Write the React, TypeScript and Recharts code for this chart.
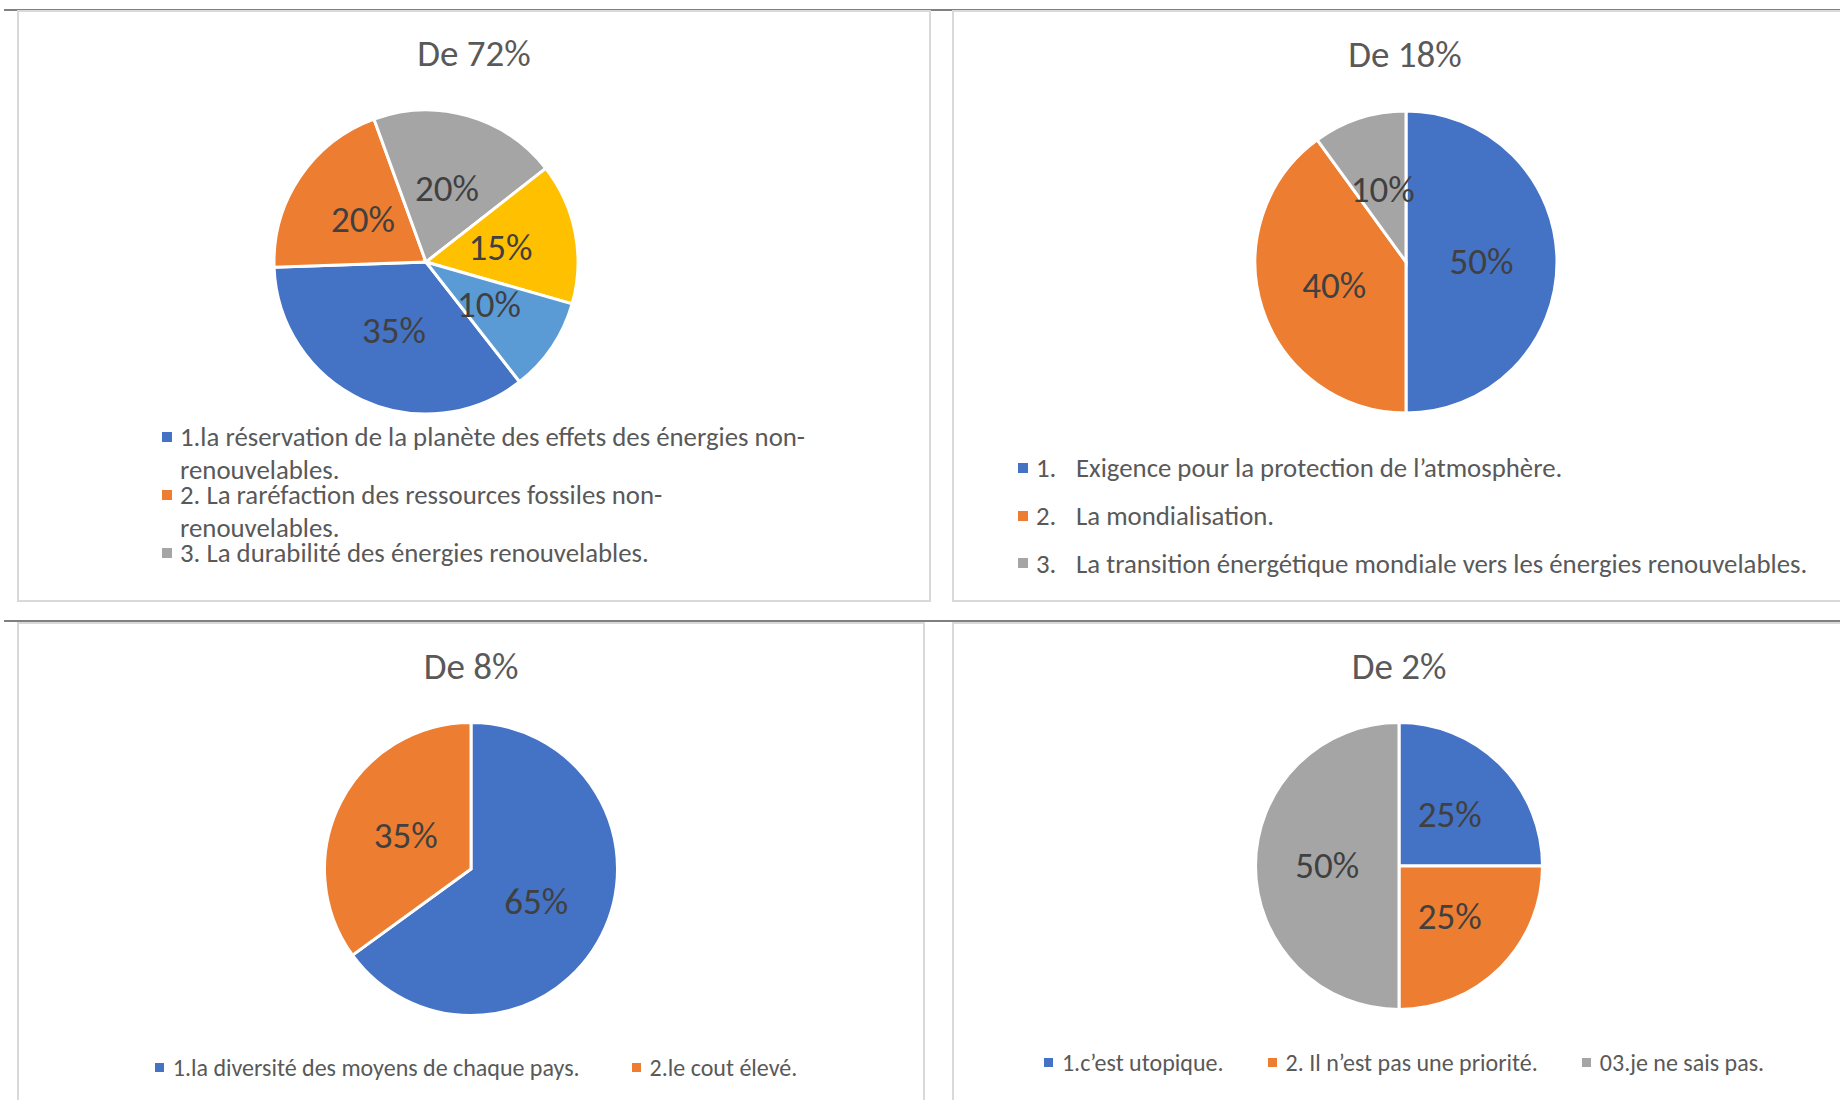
// Four Excel-style pie panels ("De 72%", "De 18%", "De 8%", "De 2%") laid out
// in a 2x2 grid, each with its own legend under the pie.
import type { CSSProperties, ReactNode } from 'react';
import { PieChart, Pie, Cell, Legend } from 'recharts';

const FONT = 'Carlito, Calibri, Lato, sans-serif';

const BLUE = '#4472C4';
const ORANGE = '#ED7D31';
const GRAY = '#A5A5A5';
const YELLOW = '#FFC000';
const LIGHT_BLUE = '#5B9BD5';

const TITLE_COLOR = '#595959';
const LABEL_COLOR = '#404040';
const LEGEND_COLOR = '#595959';
const FRAME_COLOR = '#d9d9d9';
const RULE_COLOR = '#808080';

// --- panel 1: De 72%
const C1_TITLE = 'De 72%';
const C1_NAMES = [
  '1.la réservation de la planète des effets des énergies non-\nrenouvelables.',
  '2. La raréfaction des ressources fossiles non-\nrenouvelables.',
  '3. La durabilité des énergies renouvelables.',
  '4.',
  '5.',
];
const C1_VALUES = [35, 20, 20, 15, 10];
const C1_COLORS = [BLUE, ORANGE, GRAY, YELLOW, LIGHT_BLUE];
const C1_LEGEND_COUNT = 3;

// --- panel 2: De 18%
const C2_TITLE = 'De 18%';
const C2_NAMES = [
  '1.\tExigence pour la protection de l’atmosphère.',
  '2.\tLa mondialisation.',
  '3.\tLa transition énergétique mondiale vers les énergies renouvelables.',
];
const C2_VALUES = [50, 40, 10];
const C2_COLORS = [BLUE, ORANGE, GRAY];

// --- panel 3: De 8%
const C3_TITLE = 'De 8%';
const C3_NAMES = ['1.la diversité des moyens de chaque pays.', '2.le cout élevé.'];
const C3_VALUES = [65, 35];
const C3_COLORS = [BLUE, ORANGE];

// --- panel 4: De 2%
const C4_TITLE = 'De 2%';
const C4_NAMES = ['1.c’est utopique.', '2. Il n’est pas une priorité.', '03.je ne sais pas.'];
const C4_VALUES = [25, 25, 50];
const C4_COLORS = [BLUE, ORANGE, GRAY];

const toRows = (names: string[], values: number[]) =>
  names.map((name, i) => ({ name, value: values[i] }));

const RAD = Math.PI / 180;
const TITLE_SIZE = 37;
const LABEL_SIZE = 37;

// Excel puts the data labels halfway out along each slice's bisector
function renderPctLabel(props: any) {
  const { cx, cy, midAngle, outerRadius, value } = props;
  const r = outerRadius * 0.5;
  const x = cx + r * Math.cos(-midAngle * RAD);
  const y = cy + r * Math.sin(-midAngle * RAD);
  return (
    <text
      x={x}
      y={y}
      dy="0.33em"
      textAnchor="middle"
      fill={LABEL_COLOR}
      fontSize={LABEL_SIZE}
      fontFamily={FONT}
    >
      {`${value}%`}
    </text>
  );
}

const swatch = (color: string, size: number, extra: CSSProperties = {}) => (
  <span
    style={{
      display: 'inline-block',
      width: size,
      height: size,
      background: color,
      flex: 'none',
      ...extra,
    }}
  />
);

// legend with wrapped entries stacked one under another; each visual line is
// its own block so the tight Excel spacing doesn't make line boxes overlap
const stackedLegend =
  (names: string[], colors: string[], count: number, fontSize: number, lineGap: number, itemGap: number) =>
  () => (
    <div style={{ fontFamily: FONT, fontSize, color: LEGEND_COLOR }}>
      {names.slice(0, count).map((n, i) => (
        <div key={n} style={{ display: 'flex', alignItems: 'flex-start', marginBottom: itemGap }}>
          {swatch(colors[i], 10, { marginTop: 7, marginRight: 8 })}
          <div>
            {n.split('\n').map((line, k, all) => (
              <div
                key={k}
                style={{
                  lineHeight: '24px',
                  whiteSpace: 'nowrap',
                  marginBottom: k < all.length - 1 ? lineGap : 0,
                }}
              >
                {line}
              </div>
            ))}
          </div>
        </div>
      ))}
    </div>
  );

// legend with "1.  text" numbered rows
const numberedLegend =
  (names: string[], colors: string[], fontSize: number, lineHeight: number) => () => (
    <div style={{ fontFamily: FONT, fontSize, color: LEGEND_COLOR }}>
      {names.map((n, i) => {
        const [num, text] = n.split('\t');
        return (
          <div key={n} style={{ display: 'flex', alignItems: 'center', height: lineHeight }}>
            {swatch(colors[i], 10, { marginRight: 8 })}
            <span style={{ width: 40, flex: 'none' }}>{num}</span>
            <span style={{ whiteSpace: 'nowrap' }}>{text}</span>
          </div>
        );
      })}
    </div>
  );

// single-row legend, centred
const rowLegend = (names: string[], colors: string[], gap: number) => () => (
  <div
    style={{
      fontFamily: FONT,
      fontSize: 24,
      color: LEGEND_COLOR,
      display: 'flex',
      justifyContent: 'center',
      alignItems: 'center',
      height: 30,
      gap,
      whiteSpace: 'nowrap',
    }}
  >
    {names.map((n, i) => (
      <span key={n} style={{ display: 'flex', alignItems: 'center' }}>
        {swatch(colors[i], 9, { marginRight: 9 })}
        {n}
      </span>
    ))}
  </div>
);

interface PanelProps {
  left: number;
  top: number;
  width: number;
  height: number;
  chartHeight: number;
  title: string;
  titleX: number;
  titleY: number;
  names: string[];
  values: number[];
  colors: string[];
  cx: number;
  cy: number;
  radius: number;
  startAngle: number;
  legend: () => ReactNode;
  legendStyle: CSSProperties;
}

function PiePanel(p: PanelProps) {
  const data = toRows(p.names, p.values);
  return (
    <>
      <div
        style={{
          position: 'absolute',
          left: p.left,
          top: p.top,
          width: p.width,
          height: p.height,
          boxSizing: 'border-box',
          border: `2px solid ${FRAME_COLOR}`,
        }}
      />
      <div style={{ position: 'absolute', left: p.left, top: p.top }}>
        <div
          style={{
            position: 'absolute',
            left: p.titleX,
            top: p.titleY,
            transform: 'translate(-50%, -50%)',
            fontSize: TITLE_SIZE,
            lineHeight: 1,
            color: TITLE_COLOR,
            whiteSpace: 'nowrap',
            zIndex: 2,
          }}
        >
          {p.title}
        </div>
        <PieChart
          width={p.width}
          height={p.chartHeight}
          margin={{ top: 0, right: 0, bottom: 0, left: 0 }}
        >
          <Pie
            data={data}
            dataKey="value"
            nameKey="name"
            cx={p.cx}
            cy={p.cy}
            outerRadius={p.radius}
            startAngle={p.startAngle}
            endAngle={p.startAngle - 360}
            stroke="#ffffff"
            strokeWidth={3}
            label={renderPctLabel}
            labelLine={false}
            isAnimationActive={false}
          >
            {data.map((_, i) => (
              <Cell key={`c-${i}`} fill={p.colors[i]} />
            ))}
          </Pie>
          <Legend
            layout="vertical"
            align="center"
            verticalAlign="middle"
            content={p.legend}
            wrapperStyle={p.legendStyle}
          />
        </PieChart>
      </div>
    </>
  );
}

export default function App() {
  return (
    <div
      style={{
        position: 'absolute',
        left: 0,
        top: 0,
        width: 1840,
        height: 1100,
        overflow: 'hidden',
        background: '#ffffff',
        fontFamily: FONT,
      }}
    >
      <div style={{ position: 'absolute', left: 4, top: 9, width: 1836, height: 2, background: RULE_COLOR }} />
      <div style={{ position: 'absolute', left: 4, top: 620, width: 1836, height: 2, background: RULE_COLOR }} />

      <PiePanel
        left={17}
        top={10}
        width={914}
        height={592}
        chartHeight={591}
        title={C1_TITLE}
        titleX={457}
        titleY={43}
        names={C1_NAMES}
        values={C1_VALUES}
        colors={C1_COLORS}
        cx={409}
        cy={252}
        radius={152}
        startAngle={-52}
        legend={stackedLegend(C1_NAMES, C1_COLORS, C1_LEGEND_COUNT, 26.8, 9, 1)}
        legendStyle={{ left: 145, top: 414.5, width: 740 }}
      />
      <PiePanel
        left={952}
        top={10}
        width={900}
        height={592}
        chartHeight={591}
        title={C2_TITLE}
        titleX={453}
        titleY={43.5}
        names={C2_NAMES}
        values={C2_VALUES}
        colors={C2_COLORS}
        cx={454}
        cy={252}
        radius={151}
        startAngle={90}
        legend={numberedLegend(C2_NAMES, C2_COLORS, 26.8, 47.7)}
        legendStyle={{ left: 66, top: 434, width: 860 }}
      />
      <PiePanel
        left={17}
        top={622}
        width={908}
        height={500}
        chartHeight={478}
        title={C3_TITLE}
        titleX={454}
        titleY={43.5}
        names={C3_NAMES}
        values={C3_VALUES}
        colors={C3_COLORS}
        cx={454}
        cy={247}
        radius={146.5}
        startAngle={90}
        legend={rowLegend(C3_NAMES, C3_COLORS, 52)}
        legendStyle={{ left: 9, top: 430, width: 900 }}
      />
      <PiePanel
        left={952}
        top={622}
        width={900}
        height={500}
        chartHeight={478}
        title={C4_TITLE}
        titleX={447}
        titleY={43.5}
        names={C4_NAMES}
        values={C4_VALUES}
        colors={C4_COLORS}
        cx={447}
        cy={244}
        radius={143.5}
        startAngle={90}
        legend={rowLegend(C4_NAMES, C4_COLORS, 44)}
        legendStyle={{ left: 2, top: 425, width: 900 }}
      />
    </div>
  );
}
